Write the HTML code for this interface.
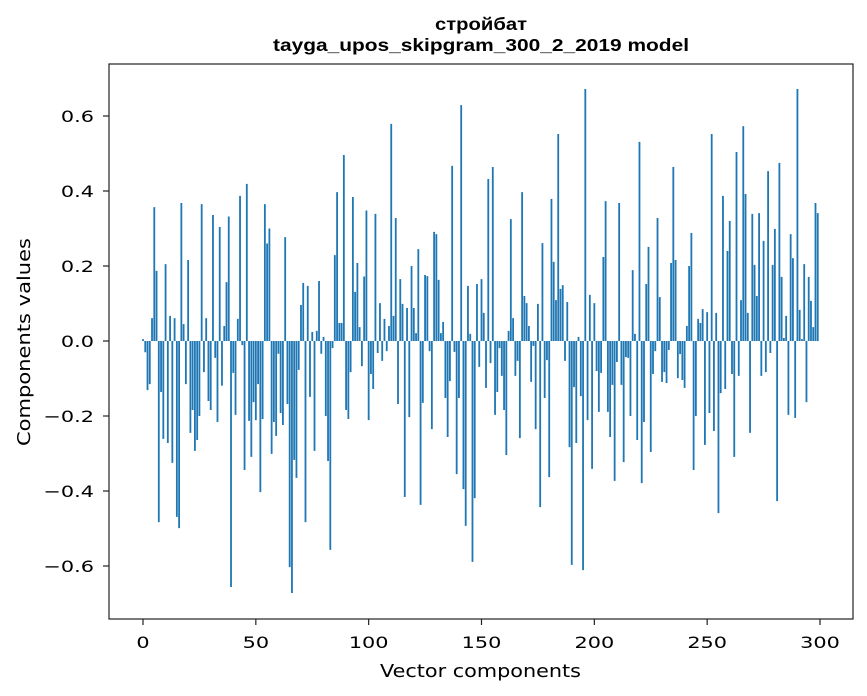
<!DOCTYPE html>
<html><head><meta charset="utf-8"><style>
html,body{margin:0;padding:0;background:#fff;}
svg{display:block;font-family:"DejaVu Sans","Liberation Sans",sans-serif;}
</style></head><body>
<svg id="chart" width="867" height="696" viewBox="0 0 867 696" xmlns="http://www.w3.org/2000/svg">
<rect x="0" y="0" width="867" height="696" fill="#fff"/>
<text x="435" y="30" textLength="92" lengthAdjust="spacingAndGlyphs" font-size="17.5" font-weight="bold" font-family="'Liberation Sans',sans-serif">стройбат</text>
<text x="273" y="51" textLength="416" lengthAdjust="spacingAndGlyphs" font-size="17.5" font-weight="bold" font-family="'Liberation Sans',sans-serif">tayga_upos_skipgram_300_2_2019 model</text>
<g id="bars"></g>
<g id="axes"></g>
<rect x="109" y="64" width="744" height="555" fill="none" stroke="#222" stroke-width="1.2"/>
<text x="380" y="677" textLength="201" lengthAdjust="spacingAndGlyphs" font-size="18">Vector components</text>
<text transform="translate(30,446) rotate(-90)" textLength="208" lengthAdjust="spacingAndGlyphs" font-size="18">Components values</text>
</svg>
<script>
const values = [
0.005,-0.03,-0.131,-0.115,0.061,0.357,0.187,-0.483,-0.136,-0.261,
0.205,-0.272,0.067,-0.325,0.061,-0.469,-0.499,0.368,0.045,-0.115,
0.216,-0.245,-0.184,-0.293,-0.264,-0.2,0.365,-0.083,0.061,-0.16,
-0.184,0.336,-0.045,-0.216,0.304,-0.119,0.04,0.157,0.332,-0.656,
-0.085,-0.197,0.059,0.387,-0.011,-0.344,0.419,-0.213,-0.309,-0.163,
-0.211,-0.115,-0.403,-0.208,0.365,0.26,0.3,-0.301,-0.216,-0.253,
-0.034,-0.192,-0.224,0.277,-0.168,-0.603,-0.672,-0.317,-0.365,-0.077,
0.096,0.155,-0.483,0.147,-0.149,0.024,-0.293,0.027,0.16,-0.034,
0.011,-0.2,-0.32,-0.557,-0.019,0.229,0.397,0.048,0.048,0.496,
-0.184,-0.208,-0.083,0.384,0.131,0.208,0.037,-0.067,0.172,0.348,
-0.211,-0.088,-0.128,0.339,-0.032,0.101,-0.053,0.059,-0.027,0.04,
0.579,0.067,0.328,-0.168,0.165,0.099,-0.416,0.088,-0.203,0.2,
0.088,0.021,0.245,-0.437,-0.165,0.176,0.173,-0.027,-0.235,0.291,
0.285,0.163,0.021,0.051,-0.152,-0.256,-0.107,0.467,-0.029,-0.355,
-0.152,0.629,-0.395,-0.493,0.147,0.019,-0.589,-0.419,0.152,-0.069,
0.165,0.075,-0.125,0.432,-0.059,0.464,-0.197,-0.136,-0.019,-0.093,
-0.184,-0.304,0.027,0.325,0.061,-0.093,-0.053,-0.259,0.397,0.12,
0.101,0.04,-0.109,-0.013,-0.235,0.099,-0.443,0.261,-0.152,-0.051,
-0.363,0.379,0.211,0.109,0.552,0.139,0.149,-0.053,0.104,-0.283,
-0.597,-0.123,-0.272,0.011,-0.147,-0.611,0.672,-0.211,0.123,-0.341,
0.101,-0.08,-0.189,-0.085,0.224,0.373,-0.189,-0.256,-0.117,-0.373,
-0.056,0.368,-0.117,-0.323,-0.043,-0.045,-0.2,0.189,0.019,-0.264,
0.531,-0.379,-0.216,0.152,0.251,-0.296,-0.088,-0.027,0.328,0.117,
-0.109,-0.083,-0.112,-0.024,0.208,0.464,0.216,-0.099,-0.035,-0.104,
-0.125,0.04,0.2,0.288,-0.344,-0.2,0.059,0.048,0.085,-0.277,
0.077,-0.192,0.552,-0.24,0.075,-0.459,-0.139,0.387,-0.128,0.24,
0.32,-0.088,-0.309,0.504,-0.093,0.109,0.573,0.392,0.075,-0.245,
0.339,0.203,0.12,0.341,-0.093,0.267,-0.083,0.453,-0.032,0.203,
0.299,-0.427,0.475,0.171,0.008,0.067,-0.197,0.285,0.221,-0.205,
0.672,0.083,0.005,0.205,-0.163,0.171,0.107,0.037,0.368,0.341
];
const xTicks = [0,50,100,150,200,250,300];
const yTicks = [-0.6,-0.4,-0.2,0.0,0.2,0.4,0.6];
const yTickLabels = ["\u22120.6","\u22120.4","\u22120.2","0.0","0.2","0.4","0.6"];

const NS = "http://www.w3.org/2000/svg";
function xScale(v){ return 143 + v * (677/300); }
function yScale(v){ return 341 - v * 375; }
const barsG = document.getElementById('bars');
const barW = 0.8 * (677/300);
values.forEach(function(v, i){
  const r = document.createElementNS(NS, 'rect');
  
  
  const y0 = yScale(0), y1 = yScale(v);
  r.setAttribute('x', (xScale(i) - barW/2).toFixed(2));
  r.setAttribute('y', Math.min(y0, y1).toFixed(2));
  r.setAttribute('width', barW.toFixed(2));
  r.setAttribute('height', Math.max(Math.abs(y1 - y0), 0.3).toFixed(2));
  r.setAttribute('fill', '#1f77b4');
  barsG.appendChild(r);
});
const axesG = document.getElementById('axes');
xTicks.forEach(function(t){
  const x = xScale(t);
  const l = document.createElementNS(NS, 'line');
  
  
  l.setAttribute('x1', x); l.setAttribute('x2', x);
  l.setAttribute('y1', 619); l.setAttribute('y2', 625);
  l.setAttribute('stroke', '#222');
  l.setAttribute('stroke-width', '1.2');
  axesG.appendChild(l);
  const tx = document.createElementNS(NS, 'text');
  
  
  tx.setAttribute('transform', 'translate(' + x + ',648) scale(1.3,1)');
  tx.setAttribute('text-anchor', 'middle');
  tx.setAttribute('font-size', '16');
  tx.textContent = String(t);
  axesG.appendChild(tx);
});
yTicks.forEach(function(t, i){
  const y = yScale(t);
  const l = document.createElementNS(NS, 'line');
  
  
  l.setAttribute('x1', 103); l.setAttribute('x2', 109);
  l.setAttribute('y1', y); l.setAttribute('y2', y);
  l.setAttribute('stroke', '#222');
  l.setAttribute('stroke-width', '1.2');
  axesG.appendChild(l);
  const tx = document.createElementNS(NS, 'text');
  
  
  tx.setAttribute('transform', 'translate(94,' + (y + 6) + ') scale(1.3,1)');
  tx.setAttribute('text-anchor', 'end');
  tx.setAttribute('font-size', '16');
  tx.textContent = yTickLabels[i];
  axesG.appendChild(tx);
});
</script>
</body></html>
